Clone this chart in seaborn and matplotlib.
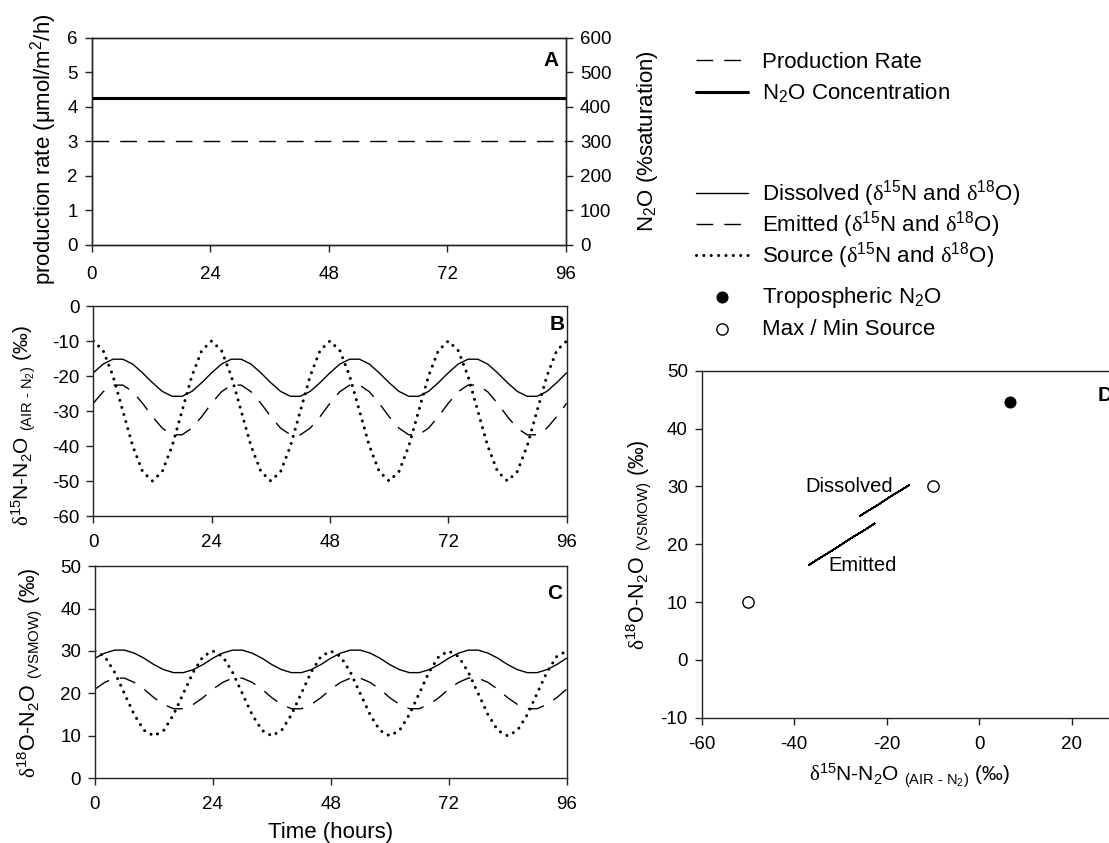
import matplotlib
matplotlib.use("Agg")
import matplotlib.pyplot as plt
import seaborn as sns
from matplotlib.ticker import MultipleLocator

# ---------------- data ----------------
hours = [0, 2, 4, 6, 8, 10, 12, 14, 16, 18, 20, 22,
         24, 26, 28, 30, 32, 34, 36, 38, 40, 42, 44, 46,
         48, 50, 52, 54, 56, 58, 60, 62, 64, 66, 68, 70,
         72, 74, 76, 78, 80, 82, 84, 86, 88, 90, 92, 94, 96]

# Panel A
time_a = [0, 96]
production_rate = [3.0, 3.0]          # umol/m2/h (left axis)
n2o_saturation = [425, 425]           # % saturation (right axis)

# Panel B: d15N-N2O
source_d15N = [-10, -12.7, -20, -30, -40, -47.3, -50, -47.3, -40, -30, -20, -12.7,
               -10, -12.7, -20, -30, -40, -47.3, -50, -47.3, -40, -30, -20, -12.7,
               -10, -12.7, -20, -30, -40, -47.3, -50, -47.3, -40, -30, -20, -12.7,
               -10, -12.7, -20, -30, -40, -47.3, -50, -47.3, -40, -30, -20, -12.7,
               -10]
dissolved_d15N = [-19.1, -16.6, -15.2, -15.2, -16.6, -19.1, -21.9, -24.4, -25.8, -25.8, -24.4, -21.9,
                  -19.1, -16.6, -15.2, -15.2, -16.6, -19.1, -21.9, -24.4, -25.8, -25.8, -24.4, -21.9,
                  -19.1, -16.6, -15.2, -15.2, -16.6, -19.1, -21.9, -24.4, -25.8, -25.8, -24.4, -21.9,
                  -19.1, -16.6, -15.2, -15.2, -16.6, -19.1, -21.9, -24.4, -25.8, -25.8, -24.4, -21.9,
                  -19.1]
emitted_d15N = [-27.8, -24.5, -22.6, -22.6, -24.5, -27.8, -31.6, -34.9, -36.8, -36.8, -34.9, -31.6,
                -27.8, -24.5, -22.6, -22.6, -24.5, -27.8, -31.6, -34.9, -36.8, -36.8, -34.9, -31.6,
                -27.8, -24.5, -22.6, -22.6, -24.5, -27.8, -31.6, -34.9, -36.8, -36.8, -34.9, -31.6,
                -27.8, -24.5, -22.6, -22.6, -24.5, -27.8, -31.6, -34.9, -36.8, -36.8, -34.9, -31.6,
                -27.8]

# Panel C: d18O-N2O
source_d18O = [30, 28.7, 25, 20, 15, 11.3, 10, 11.3, 15, 20, 25, 28.7,
               30, 28.7, 25, 20, 15, 11.3, 10, 11.3, 15, 20, 25, 28.7,
               30, 28.7, 25, 20, 15, 11.3, 10, 11.3, 15, 20, 25, 28.7,
               30, 28.7, 25, 20, 15, 11.3, 10, 11.3, 15, 20, 25, 28.7,
               30]
dissolved_d18O = [28.3, 29.5, 30.2, 30.2, 29.5, 28.3, 26.8, 25.6, 24.9, 24.9, 25.6, 26.8,
                  28.3, 29.5, 30.2, 30.2, 29.5, 28.3, 26.8, 25.6, 24.9, 24.9, 25.6, 26.8,
                  28.3, 29.5, 30.2, 30.2, 29.5, 28.3, 26.8, 25.6, 24.9, 24.9, 25.6, 26.8,
                  28.3, 29.5, 30.2, 30.2, 29.5, 28.3, 26.8, 25.6, 24.9, 24.9, 25.6, 26.8,
                  28.3]
emitted_d18O = [21.0, 22.6, 23.6, 23.6, 22.6, 21.0, 19.0, 17.4, 16.4, 16.4, 17.4, 19.0,
                21.0, 22.6, 23.6, 23.6, 22.6, 21.0, 19.0, 17.4, 16.4, 16.4, 17.4, 19.0,
                21.0, 22.6, 23.6, 23.6, 22.6, 21.0, 19.0, 17.4, 16.4, 16.4, 17.4, 19.0,
                21.0, 22.6, 23.6, 23.6, 22.6, 21.0, 19.0, 17.4, 16.4, 16.4, 17.4, 19.0,
                21.0]

# Panel D points
trop_d15N = [6.7]
trop_d18O = [44.6]
maxmin_d15N = [-50, -10]
maxmin_d18O = [10, 30]

time_ticks = [0, 24, 48, 72, 96]

# ---------------- style ----------------
sns.set_theme(style="ticks")
plt.rcParams["font.family"] = ["Liberation Sans", "DejaVu Sans"]
plt.rcParams.update({
    "mathtext.fontset": "custom",
    "mathtext.rm": "Liberation Sans",
    "mathtext.it": "Liberation Sans:italic",
    "mathtext.bf": "Liberation Sans:bold",
    "mathtext.sf": "Liberation Serif",
    "axes.unicode_minus": False,
    "axes.linewidth": 1.0,
    "axes.edgecolor": "#222222",
    "xtick.major.size": 5,
    "ytick.major.size": 5,
    "xtick.major.width": 1.0,
    "ytick.major.width": 1.0,
    "xtick.major.pad": 8,
    "ytick.major.pad": 5,
    "xtick.color": "#222222",
    "ytick.color": "#222222",
    "xtick.labelcolor": "black",
    "ytick.labelcolor": "black",
    "xtick.direction": "out",
    "ytick.direction": "out",
    "xtick.labelsize": 13.5,
    "ytick.labelsize": 13.5,
    "axes.labelsize": 16,
    "text.color": "black",
    "axes.labelcolor": "black",
})

DASH = (0, (12, 8))
DOT = (0, (0.01, 2.4))
dl = r"$\mathsf{\delta}$"
ISO = 15.0
ISO18 = 15.5
HY = "\u2010"

fig = plt.figure(figsize=(11.09, 8.43), dpi=100)
axA = fig.add_axes([0.0827, 0.7094, 0.4277, 0.2459])
axB = fig.add_axes([0.0841, 0.3879, 0.4268, 0.2491])
axC = fig.add_axes([0.0856, 0.0767, 0.4253, 0.2518])
axD = fig.add_axes([0.6327, 0.1486, 0.3754, 0.4116])

# ---------------- Panel A ----------------
sns.lineplot(x=time_a, y=production_rate, ax=axA, color="black", lw=1.0,
             linestyle=DASH, legend=False, label="Production Rate", errorbar=None)
axA2 = axA.twinx()
sns.lineplot(x=time_a, y=n2o_saturation, ax=axA2, color="black", lw=2.2,
             legend=False, label=r"N$\mathregular{_2}$O Concentration", errorbar=None)
axA.set_xlim(0, 96)
axA.set_ylim(0, 6)
axA2.set_ylim(0, 600)
axA.set_xticks(time_ticks)
axA.tick_params(axis="x", pad=10)
axA.yaxis.set_major_locator(MultipleLocator(1))
axA2.yaxis.set_major_locator(MultipleLocator(100))
axA.set_xlabel("")
axA.set_ylabel(r"production rate ($\mathregular{\mu}$mol/m$\mathregular{^2}$/h)")
axA2.set_ylabel(r"N$\mathregular{_2}$O (%saturation)")
axA.yaxis.set_label_coords(-0.069, 0.46)
axA2.yaxis.set_label_coords(1.1455, 0.5)
axA.text(0.968, 0.892, "A", transform=axA.transAxes, ha="center", va="center",
         fontsize=15, fontweight="bold")

# ---------------- Panel B ----------------
sub15 = r"$\mathregular{^{15}}$"
sub18 = r"$\mathregular{^{18}}$"
sns.lineplot(x=hours, y=dissolved_d15N, ax=axB, color="black", lw=1.0, legend=False,
             label="Dissolved (" + dl + sub15 + "N and " + dl + sub18 + "O)", errorbar=None)
sns.lineplot(x=hours, y=emitted_d15N, ax=axB, color="black", lw=1.0, linestyle=DASH, legend=False,
             label="Emitted (" + dl + sub15 + "N and " + dl + sub18 + "O)", errorbar=None)
sns.lineplot(x=hours, y=source_d15N, ax=axB, color="black", lw=2.2, linestyle=DOT,
             dash_capstyle="round", legend=False,
             label="Source (" + dl + sub15 + "N and " + dl + sub18 + "O)", errorbar=None)
axB.set_xlim(0, 96)
axB.set_ylim(-60, 0)
axB.set_xticks(time_ticks)
axB.yaxis.set_major_locator(MultipleLocator(10))
axB.set_xlabel("")
lab15 = (dl + sub15 + r"N-N$\mathregular{_2}$O $\mathregular{_{(AIR\ " + HY
         + r"\ N_2)}}$ (‰)")
lab18 = dl + sub18 + r"O-N$\mathregular{_2}$O $\mathregular{_{(VSMOW)}}$ (‰)"
axB.set_ylabel(lab15, fontsize=ISO)
axB.yaxis.set_label_coords(-0.117, 0.43)
axB.text(0.98, 0.91, "B", transform=axB.transAxes, ha="center", va="center",
         fontsize=15, fontweight="bold")

# ---------------- Panel C ----------------
sns.lineplot(x=hours, y=dissolved_d18O, ax=axC, color="black", lw=1.0, legend=False, errorbar=None)
sns.lineplot(x=hours, y=emitted_d18O, ax=axC, color="black", lw=1.0, linestyle=DASH,
             legend=False, errorbar=None)
sns.lineplot(x=hours, y=source_d18O, ax=axC, color="black", lw=2.2, linestyle=DOT,
             dash_capstyle="round", legend=False, errorbar=None)
axC.set_xlim(0, 96)
axC.set_ylim(0, 50)
axC.set_xticks(time_ticks)
axC.yaxis.set_major_locator(MultipleLocator(10))
axC.set_xlabel("Time (hours)")
axC.set_ylabel(lab18, fontsize=ISO18)
axC.yaxis.set_label_coords(-0.109, 0.5)
axC.xaxis.set_label_coords(0.5, -0.204)
axC.text(0.975, 0.871, "C", transform=axC.transAxes, ha="center", va="center",
         fontsize=15, fontweight="bold")

# ---------------- Panel D ----------------
sns.lineplot(x=dissolved_d15N, y=dissolved_d18O, ax=axD, color="black", lw=1.0,
             sort=False, estimator=None, legend=False)
sns.lineplot(x=emitted_d15N, y=emitted_d18O, ax=axD, color="black", lw=1.0,
             sort=False, estimator=None, legend=False)
sns.scatterplot(x=trop_d15N, y=trop_d18O, ax=axD, color="black", edgecolor="black",
                s=62, linewidth=0.8, legend=False, label=r"Tropospheric N$\mathregular{_2}$O", zorder=3)
sns.scatterplot(x=maxmin_d15N, y=maxmin_d18O, ax=axD, color="white", edgecolor="black",
                s=66, linewidth=1.0, legend=False, label="Max / Min Source", zorder=3)
axD.set_xlim(-60, 30)
axD.set_ylim(-10, 50)
axD.xaxis.set_major_locator(MultipleLocator(20))
axD.yaxis.set_major_locator(MultipleLocator(10))
axD.set_xlabel(lab15, fontsize=ISO)
axD.set_ylabel(lab18, fontsize=ISO18)
axD.yaxis.set_label_coords(-0.116, 0.5)
axD.xaxis.set_label_coords(0.5, -0.127)
axD.text(-28.2, 29.9, "Dissolved", ha="center", va="center", fontsize=14.5)
axD.text(-25.3, 16.3, "Emitted", ha="center", va="center", fontsize=14.5)
axD.text(0.952, 0.93, "D", transform=axD.transAxes, ha="left", va="center",
         fontsize=15, fontweight="bold")

for ax in (axA, axB, axC, axD):
    for s in ax.spines.values():
        s.set_visible(True)

# ---------------- legends ----------------
base_kw = dict(frameon=False, fontsize=16, handlelength=2.34, handletextpad=0.62,
               borderpad=0, borderaxespad=0, loc="center left", scatterpoints=1)
h1 = [axA.get_lines()[0], axA2.get_lines()[0]]
fig.legend(handles=h1, labels=[h.get_label() for h in h1], labelspacing=0.40,
           bbox_to_anchor=(696 / 1109, 1 - 78.5 / 843), **base_kw)
h2 = list(axB.get_lines()[:3])
fig.legend(handles=h2, labels=[h.get_label() for h in h2], labelspacing=0.0,
           bbox_to_anchor=(696 / 1109, 1 - 224.5 / 843), **base_kw)
h3 = list(axD.collections[:2])
fig.legend(handles=h3, labels=[h.get_label() for h in h3], labelspacing=0.40,
           bbox_to_anchor=(696 / 1109, 1 - 312.5 / 843), **base_kw)

fig.savefig("out.png", dpi=100)
